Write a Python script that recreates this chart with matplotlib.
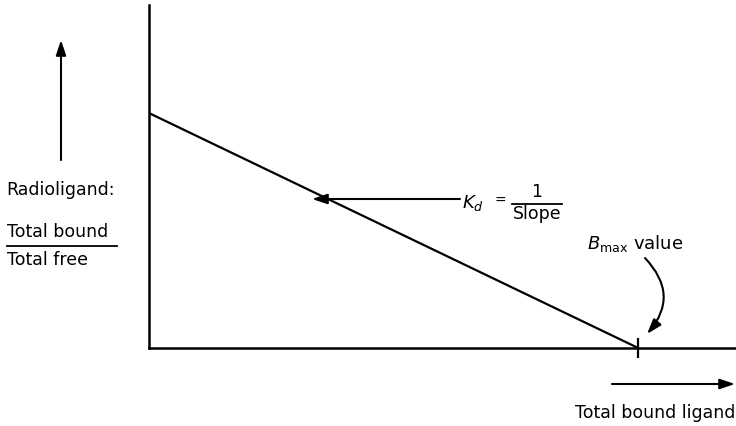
import matplotlib.pyplot as plt

# Scatchard plot: bound/free against bound ligand, straight line down to Bmax
bound = [0, 100]
ratio = [1.0, 0.0]
b_max = 100
x_max = 120
y_max = 1.46

W, H = 736, 426
fig = plt.figure(figsize=(W / 100, H / 100), dpi=100)

# main plot area
ax = fig.add_axes([149 / W, (H - 348) / H, (W - 149) / W, 343 / H])
ax.plot(bound, ratio, color="black", lw=1.6, solid_capstyle="butt")
ax.plot([b_max], [0], marker="|", markersize=15, mew=1.6, color="black", clip_on=False)
ax.set_xlim(0, x_max)
ax.set_ylim(0, y_max)
for side in ["top", "right"]:
    ax.spines[side].set_visible(False)
for side in ["left", "bottom"]:
    ax.spines[side].set_linewidth(1.8)
ax.set_xticks([])
ax.set_yticks([])

# overlay in pixel units for the labels and arrows
ov = fig.add_axes([0, 0, 1, 1], facecolor="none")
ov.set_xlim(0, W)
ov.set_ylim(H, 0)
ov.axis("off")

txt = dict(fontsize=12.5, color="black", family="DejaVu Sans")
arrow = dict(arrowstyle="-|>,head_length=0.9,head_width=0.3", color="black", lw=1.5,
             shrinkA=0, shrinkB=0)

# y-axis label block
ov.annotate("", xy=(61, 40), xytext=(61, 160), arrowprops=arrow)
ov.text(6, 190, "Radioligand:", va="center", ha="left", **txt)
ov.text(7, 232, "Total bound", va="center", ha="left", **txt)
ov.plot([7, 117], [246, 246], color="black", lw=1.3)
ov.text(7, 260, "Total free", va="center", ha="left", **txt)

# Kd arrow and label
ov.annotate("", xy=(312, 199), xytext=(460, 199), arrowprops=arrow)
ov.text(462, 203, r"$K_d$", va="center", ha="left", fontsize=13, color="black")
ov.text(494, 201, "=", va="center", ha="left", fontsize=10, color="black")
ov.text(537, 192, "1", va="center", ha="center", **txt)
ov.plot([512, 562], [204, 204], color="black", lw=1.3)
ov.text(537, 214, "Slope", va="center", ha="center", **txt)

# Bmax label with curved arrow
ov.text(587, 243, r"$B_{\mathrm{max}}$ value", va="center", ha="left", fontsize=13, color="black")
ov.annotate("", xy=(647, 334), xytext=(645, 258),
            arrowprops=dict(arrow, connectionstyle="arc3,rad=-0.45"))

# x-axis label block
ov.annotate("", xy=(735, 384), xytext=(612, 384), arrowprops=arrow)
ov.text(735, 413, "Total bound ligand", va="center", ha="right", **txt)

fig.savefig("out.png", dpi=100)
